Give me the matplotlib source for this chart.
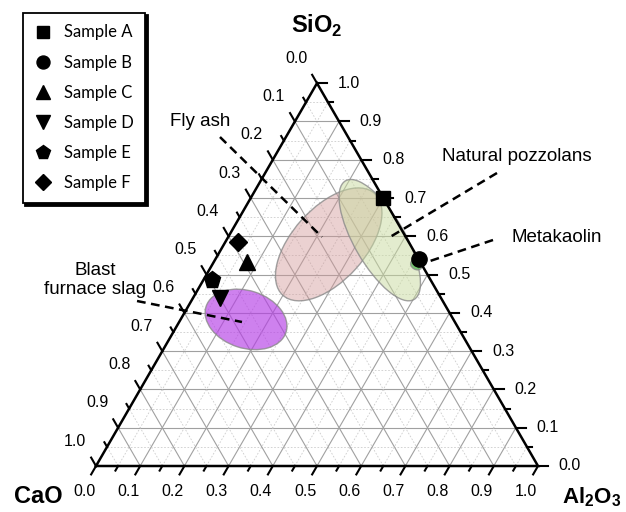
import numpy as np
import matplotlib
matplotlib.use('Agg')
import matplotlib.pyplot as plt
from matplotlib.patches import Ellipse
from matplotlib.lines import Line2D

plt.rcParams['font.family'] = ['Liberation Sans', 'DejaVu Sans']
plt.rcParams['mathtext.fontset'] = 'custom'
plt.rcParams['mathtext.rm'] = 'Liberation Sans'
plt.rcParams['mathtext.bf'] = 'Liberation Sans:bold'

# samples, composition as (SiO2, Al2O3), CaO = rest
samples = ['Sample A', 'Sample B', 'Sample C', 'Sample D', 'Sample E', 'Sample F']
markers = ['s', 'o', '^', 'v', 'p', 'D']
sio2 = [0.70, 0.54, 0.534, 0.438, 0.487, 0.585]
al2o3 = [0.30, 0.46, 0.075, 0.062, 0.019, 0.029]

# material regions: centre (SiO2, Al2O3), size in plot units, angle
regions = ['Fly ash', 'Natural pozzolans', 'Blast furnace slag', 'Metakaolin']
reg_sio2 = [0.579, 0.590, 0.383, 0.525]
reg_al2o3 = [0.237, 0.347, 0.148, 0.462]
reg_w = [0.31, 0.31, 0.19, 0.027]
reg_h = [0.165, 0.115, 0.13, 0.02]
reg_ang = [48, -60, -18, -30]
reg_fc = ['#d39a9a', '#c9db9e', '#b53de6', '#4fb84f']
reg_alpha = [0.45, 0.5, 0.65, 0.75]

ticks = np.round(np.arange(0, 1.01, 0.1), 2)
tick_labels = ['%.1f' % t for t in ticks]

H = np.sqrt(3) / 2


def tern(s, a):
    s = np.asarray(s, float)
    a = np.asarray(a, float)
    return a + s / 2, s * H


fig = plt.figure(figsize=(6.26, 5.12), dpi=100)
ax = fig.add_axes([0, 0, 1, 1])
ax.set_xlim(-96 / 442, 530 / 442)
ax.set_ylim(-46 / 442, 466 / 442)
ax.axis('off')

# grid
for t in np.arange(0.05, 1.0, 0.05):
    major = abs(t * 10 - round(t * 10)) < 1e-6
    kw = dict(color='#a0a0a0', lw=0.8) if major else dict(color='#cccccc', lw=0.6, ls=(0, (2, 2)))
    for (s0, a0), (s1, a1) in [((t, 0), (t, 1 - t)),
                               ((0, t), (1 - t, t)),
                               ((0, 1 - t), (1 - t, 0))]:
        x, y = tern([s0, s1], [a0, a1])
        ax.plot(x, y, zorder=1, **kw)

# regions
for i in range(len(regions)):
    cx, cy = tern(reg_sio2[i], reg_al2o3[i])
    e = Ellipse((cx, cy), reg_w[i], reg_h[i], angle=reg_ang[i],
                facecolor=reg_fc[i], alpha=reg_alpha[i], edgecolor='none', zorder=2)
    ax.add_patch(e)
    e2 = Ellipse((cx, cy), reg_w[i], reg_h[i], angle=reg_ang[i],
                 facecolor='none', edgecolor='#8a8a8a', lw=1.0, alpha=0.8, zorder=2)
    ax.add_patch(e2)

# triangle
x, y = tern([0, 0, 1, 0], [0, 1, 0, 0])
ax.plot(x, y, color='k', lw=1.8, zorder=4, solid_joinstyle='miter')

# ticks and tick labels
L_maj, L_min = 0.022, 0.012
for t in np.arange(0, 1.001, 0.05):
    major = abs(t * 10 - round(t * 10)) < 1e-6
    L = L_maj if major else L_min
    # bottom (Al2O3)
    x0, y0 = tern(0, t)
    ax.plot([x0, x0 - 0.5 * L], [y0, y0 - H * L], color='k', lw=1.5, zorder=4)
    # right (SiO2)
    x1, y1 = tern(t, 1 - t)
    ax.plot([x1, x1 + L], [y1, y1], color='k', lw=1.5, zorder=4)
    # left (CaO)
    x2, y2 = tern(1 - t, 0)
    ax.plot([x2, x2 - 0.5 * L], [y2, y2 + H * L], color='k', lw=1.5, zorder=4)

for t, lab in zip(ticks, tick_labels):
    x0, y0 = tern(0, t)
    ax.text(x0 - 0.027, y0 - 0.057, lab, fontsize=11.5, ha='center', va='center')
    x1, y1 = tern(t, 1 - t)
    ax.text(x1 + 0.047, y1, lab, fontsize=11.5, ha='left', va='center')
    x2, y2 = tern(1 - t, 0)
    ax.text(x2 - 0.0475, y2 + 0.0565, lab, fontsize=11.5, ha='center', va='center')

# axis titles
ax.text(0.5, 0.996, r'SiO$_\mathbf{2}$', fontsize=17, fontweight='bold', ha='center', va='center')
ax.text(-0.131, -0.068, 'CaO', fontsize=17, fontweight='bold', ha='center', va='center')
ax.text(1.188, -0.070, r'Al$_\mathbf{2}$O$_\mathbf{3}$', fontsize=16, fontweight='bold',
        ha='right', va='center')

# region labels with dashed leaders
lab_pos = [(0.2353, 0.7783), (0.9525, 0.6991), (-0.0023, 0.4208), (1.043, 0.518)]
lab_text = ['Fly ash', 'Natural pozzolans', 'Blast\nfurnace slag', 'Metakaolin']
lead = [((0.2805, 0.7443), (0.5113, 0.5181)),
        ((0.9072, 0.6629), (0.6652, 0.5181)),
        ((0.0928, 0.3733), (0.3303, 0.3258)),
        ((0.8982, 0.5113), (0.7489, 0.4615))]
for (tx, ty), txt, (p0, p1) in zip(lab_pos, lab_text, lead):
    ax.text(tx, ty, txt, fontsize=13.5, ha='center', va='center', linespacing=1.1)
    ax.plot([p0[0], p1[0]], [p0[1], p1[1]], color='k', lw=1.8, ls=(0, (3.5, 2.2)), zorder=5)

# samples
sizes = [10, 11, 12, 12, 12.5, 9]
for i in range(len(samples)):
    x, y = tern(sio2[i], al2o3[i])
    ax.plot(x, y, marker=markers[i], color='k', markersize=sizes[i], ls='none', zorder=6)

handles = [Line2D([], [], marker=m, color='k', ls='none', markersize=s * 0.85)
           for m, s in zip(markers, sizes)]
leg = ax.legend(handles, samples, loc='upper left', bbox_to_anchor=(22.7 / 626, 1 - 12.7 / 512),
                bbox_transform=fig.transFigure, borderaxespad=0, fancybox=False,
                shadow={'color': 'black', 'alpha': 1}, framealpha=1, edgecolor='k',
                prop={'family': 'Lato', 'size': 12}, handlelength=1.0, handletextpad=0.75,
                borderpad=0.7, labelspacing=0.85)
leg.get_frame().set_linewidth(1.3)

fig.savefig('out.png', dpi=100)
